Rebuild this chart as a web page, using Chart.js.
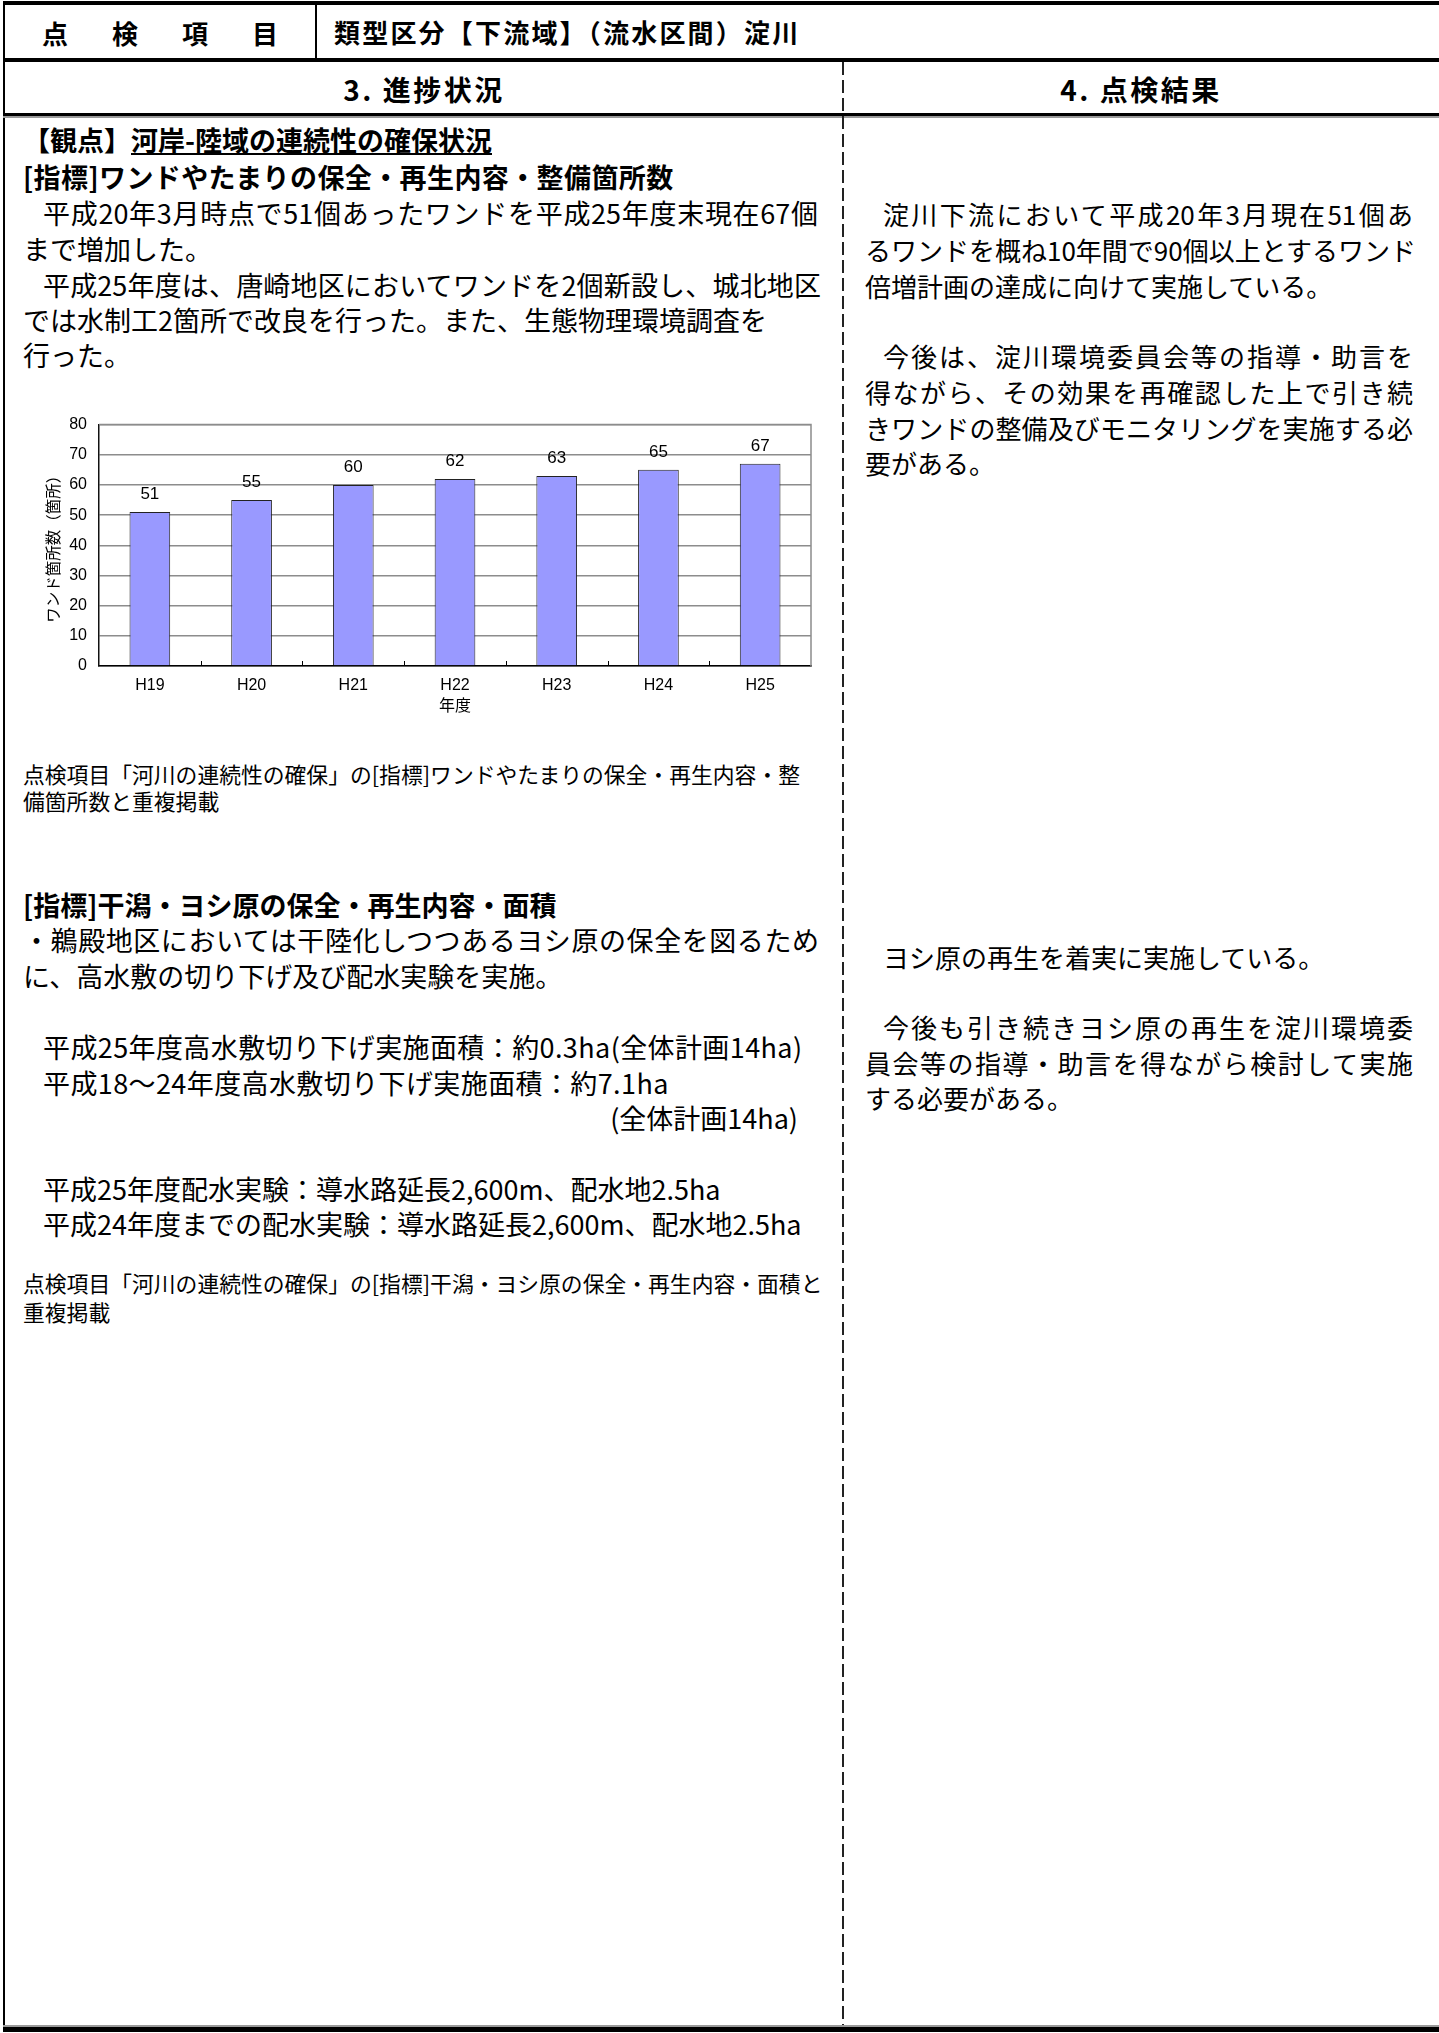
<!DOCTYPE html>
<html lang="ja">
<head>
<meta charset="utf-8">
<title>ワンド箇所数の推移</title>
<script src="https://cdn.jsdelivr.net/npm/chart.js@4.4.1/dist/chart.umd.min.js"></script>
<style>
  html, body { margin: 0; padding: 0; background: #fff; }
  body {
    width: 1439px; height: 2033px; position: relative; overflow: hidden;
    font-family: "Noto Sans CJK JP", "Noto Sans", sans-serif; color: #000;
  }
  .bar { position: absolute; background: #000; }
  .ln {
    position: absolute; white-space: nowrap; box-sizing: border-box;
    height: 30px; line-height: 30px; font-size: 27px;
  }
  .r { font-size: 26px; }
  .b { font-weight: 700; }
  .hd { font-size: 26px; font-weight: 700; }
  .hd2 { font-size: 28px; font-weight: 700; letter-spacing: 2.5px; }
  .note { font-size: 21.8px; height: 24px; line-height: 24px; }
  .j { text-align: justify; text-align-last: justify; }
  .in { padding-left: 20px; }
  .rin { padding-left: 18px; }
  .ul { text-decoration: underline; text-decoration-thickness: 2px; text-underline-offset: 2px; }
  #dash {
    position: absolute; left: 842px; top: 62px; width: 2px; height: 1963px;
    background: repeating-linear-gradient(to bottom, #222 0 13px, transparent 13px 18px);
  }
  #chartBox { position: absolute; left: 20px; top: 403px; width: 810px; height: 317px; }
</style>
</head>
<body>

<!-- 枠線 -->
<div class="bar" style="left:3px; top:1px; width:1436px; height:4px;"></div>
<div class="bar" style="left:3px; top:1px; width:2px; height:2030px;"></div>
<div class="bar" style="left:315px; top:3px; width:2px; height:57px;"></div>
<div class="bar" style="left:3px; top:58px; width:1436px; height:4px;"></div>
<div class="bar" style="left:3px; top:113px; width:1436px; height:3px;"></div>
<div class="bar" style="left:3px; top:116px; width:1436px; height:2px; background:#9a9a9a;"></div>
<div class="bar" style="left:3px; top:2025px; width:1436px; height:2px; background:#9a9a9a;"></div>
<div class="bar" style="left:3px; top:2027px; width:1436px; height:5px;"></div>
<div id="dash"></div>

<!-- 見出し行 -->
<div class="ln hd" style="left:42px; top:18px; letter-spacing:44px;">点検項目</div>
<div class="ln hd" style="left:334px; top:17px; letter-spacing:2.2px;">類型区分【下流域】（流水区間）淀川</div>
<div class="ln hd2" style="left:5px; width:838px; top:74px; text-align:center;">3. 進捗状況</div>
<div class="ln hd2" style="left:843px; width:596px; top:74px; text-align:center;">4. 点検結果</div>

<!-- 左欄 -->
<div class="ln b" style="left:23px; top:125px;">【観点】<span class="ul">河岸-陸域の連続性の確保状況</span></div>
<div class="ln b" style="left:23px; top:162px; letter-spacing:0.4px;">[指標]ワンドやたまりの保全・再生内容・整備箇所数</div>
<div class="ln j in" style="left:23px; width:795px; top:198px;">平成20年3月時点で51個あったワンドを平成25年度末現在67個</div>
<div class="ln" style="left:23px; top:234px;">まで増加した。</div>
<div class="ln j in" style="left:23px; width:798px; top:270px;">平成25年度は、唐崎地区においてワンドを2個新設し、城北地区</div>
<div class="ln" style="left:23px; top:305px;">では水制工2箇所で改良を行った。また、生態物理環境調査を</div>
<div class="ln" style="left:23px; top:340px;">行った。</div>

<div id="chartBox"><canvas id="chartWando" width="810" height="317"></canvas></div>

<div class="ln note" style="left:23px; top:762px;">点検項目「河川の連続性の確保」の[指標]ワンドやたまりの保全・再生内容・整</div>
<div class="ln note" style="left:23px; top:789px;">備箇所数と重複掲載</div>

<div class="ln b" style="left:23px; top:890px;">[指標]干潟・ヨシ原の保全・再生内容・面積</div>
<div class="ln j" style="left:23px; width:796px; top:925px;">・鵜殿地区においては干陸化しつつあるヨシ原の保全を図るため</div>
<div class="ln" style="left:23px; top:961px;">に、高水敷の切り下げ及び配水実験を実施。</div>
<div class="ln in" style="left:23px; top:1032px; letter-spacing:0.4px;">平成25年度高水敷切り下げ実施面積：約0.3ha(全体計画14ha)</div>
<div class="ln in" style="left:23px; top:1068px; letter-spacing:0.4px;">平成18～24年度高水敷切り下げ実施面積：約7.1ha</div>
<div class="ln" style="left:23px; width:775px; top:1103px; text-align:right;">(全体計画14ha)</div>
<div class="ln in" style="left:23px; top:1174px;">平成25年度配水実験：導水路延長2,600m、配水地2.5ha</div>
<div class="ln in" style="left:23px; top:1209px;">平成24年度までの配水実験：導水路延長2,600m、配水地2.5ha</div>
<div class="ln note" style="left:23px; top:1271px;">点検項目「河川の連続性の確保」の[指標]干潟・ヨシ原の保全・再生内容・面積と</div>
<div class="ln note" style="left:23px; top:1300px;">重複掲載</div>

<!-- 右欄 -->
<div class="ln r j rin" style="left:865px; width:548px; top:199px;">淀川下流において平成20年3月現在51個あ</div>
<div class="ln r j" style="left:865px; width:548px; top:235px;">るワンドを概ね10年間で90個以上とするワンド</div>
<div class="ln r" style="left:865px; top:271px;">倍増計画の達成に向けて実施している。</div>
<div class="ln r j rin" style="left:865px; width:548px; top:341px;">今後は、淀川環境委員会等の指導・助言を</div>
<div class="ln r j" style="left:865px; width:548px; top:377px;">得ながら、その効果を再確認した上で引き続</div>
<div class="ln r j" style="left:865px; width:548px; top:413px;">きワンドの整備及びモニタリングを実施する必</div>
<div class="ln r" style="left:865px; top:448px;">要がある。</div>
<div class="ln r rin" style="left:865px; top:942px;">ヨシ原の再生を着実に実施している。</div>
<div class="ln r j rin" style="left:865px; width:548px; top:1012px;">今後も引き続きヨシ原の再生を淀川環境委</div>
<div class="ln r j" style="left:865px; width:548px; top:1048px;">員会等の指導・助言を得ながら検討して実施</div>
<div class="ln r" style="left:865px; top:1083px;">する必要がある。</div>

<script>
document.addEventListener('DOMContentLoaded', function() {
  // グラフのデータ
  const categories = ['H19', 'H20', 'H21', 'H22', 'H23', 'H24', 'H25'];
  const wandCounts = [51, 55, 60, 62, 63, 65, 67];
  const yTickValues = [0, 10, 20, 30, 40, 50, 60, 70, 80];

  const ctx = document.getElementById('chartWando');
  if (!ctx) {
    console.warn("No se encontró <canvas id='chartWando'>");
    return;
  }

  // 枠（上・右）と横軸の目盛り
  const plotFrame = {
    id: 'plotFrame',
    afterDatasetsDraw(chart) {
      const { ctx, chartArea: a, scales: { x } } = chart;
      ctx.save();
      ctx.strokeStyle = '#8c8c8c';
      ctx.lineWidth = 1.5;
      ctx.beginPath();
      ctx.moveTo(a.left, a.top);
      ctx.lineTo(a.right, a.top);
      ctx.lineTo(a.right, a.bottom);
      ctx.stroke();

      ctx.strokeStyle = '#000';
      ctx.lineWidth = 1;
      for (let i = 1; i < categories.length; i++) {
        const px = Math.round((x.getPixelForTick(i - 1) + x.getPixelForTick(i)) / 2) + 0.5;
        ctx.beginPath();
        ctx.moveTo(px, a.bottom);
        ctx.lineTo(px, a.bottom - 5);
        ctx.stroke();
      }
      ctx.restore();
    }
  };

  // 棒の上の数値
  const valueLabels = {
    id: 'valueLabels',
    afterDatasetsDraw(chart) {
      const { ctx } = chart;
      const meta = chart.getDatasetMeta(0);
      ctx.save();
      ctx.font = '17px "Liberation Sans", Arial, sans-serif';
      ctx.fillStyle = '#000';
      ctx.textAlign = 'center';
      ctx.textBaseline = 'middle';
      meta.data.forEach((bar, i) => {
        ctx.fillText(String(wandCounts[i]), bar.x, bar.y - 18);
      });
      ctx.restore();
    }
  };

  const tickFont = { family: '"Liberation Sans", Arial, sans-serif', size: 16 };

  new Chart(ctx, {
    type: 'bar',
    data: {
      labels: categories,
      datasets: [{
        data: wandCounts,
        backgroundColor: '#9999ff',
        borderColor: '#222',
        borderWidth: 1,
        barPercentage: 0.4,
        categoryPercentage: 1.0
      }]
    },
    options: {
      responsive: false,
      animation: false,
      layout: { padding: { top: 0, right: 19, left: 0, bottom: 0 } },
      plugins: {
        legend: { display: false },
        tooltip: { enabled: false }
      },
      scales: {
        x: {
          grid: { display: false, drawTicks: false },
          border: { color: '#000', width: 1.5 },
          ticks: { color: '#000', font: tickFont, padding: 10 },
          title: {
            display: true,
            text: '年度',
            color: '#000',
            font: { family: '"Noto Sans CJK JP", sans-serif', size: 16 },
            padding: { top: 0, bottom: 5 }
          },
          afterFit: function(scale) { scale.height = 54; }
        },
        y: {
          min: yTickValues[0],
          max: yTickValues[yTickValues.length - 1],
          ticks: {
            stepSize: yTickValues[1] - yTickValues[0],
            color: '#000',
            font: tickFont,
            padding: 12
          },
          grid: { color: '#8c8c8c', lineWidth: 1.5, drawTicks: false },
          border: { color: '#111', width: 1.5 },
          title: {
            display: true,
            text: 'ワンド箇所数（箇所）',
            color: '#000',
            font: { family: '"Noto Sans CJK JP", sans-serif', size: 15.5 },
            padding: { top: 24, bottom: 0 }
          },
          afterFit: function(scale) { scale.width = 79; }
        }
      }
    },
    plugins: [plotFrame, valueLabels]
  });
});
</script>
</body>
</html>
